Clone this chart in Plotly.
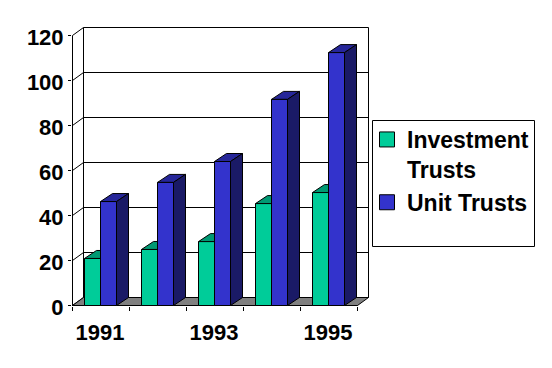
import plotly.graph_objects as go

# Data
years = ["1991", "1992", "1993", "1994", "1995"]
investment_trusts = [20.9, 24.9, 28.4, 45.3, 50.2]
unit_trusts = [46.2, 54.7, 64, 91.6, 112.4]
y_ticks = [0, 20, 40, 60, 80, 100, 120]
x_tick_labels = ["1991", "1993", "1995"]

# Figure geometry (pixels)
W, H = 552, 368
PX0, PX1 = 72.5, 357.5    # front plane x extent
PY0, PY120 = 305.5, 35.5  # front plane y for 0 and 120
WALL_DX_PX, BAR_DX_PX, DEPTH_PY = 11, 12, 8
ux = (PX1 - PX0) / len(years)
uy = (PY0 - PY120) / 120
WDX, BDX, DY = WALL_DX_PX / ux, BAR_DX_PX / ux, DEPTH_PY / uy
BAR_START, BAR_W = 12 / ux, 16 / ux

# Plot-area bounds, integer pixels
LEFT, RIGHT, TOP, BOTTOM = 72, 372, 26, 306

FONT = "Liberation Sans"
BLACK = "#000000"
GREEN, GREEN_TOP = "#00CC99", "#009973"
BLUE, BLUE_TOP, BLUE_SIDE = "#3333CC", "#262699", "#1A1A66"
GRAY = "#808080"

fig = go.Figure()


def poly(xs, ys, fill):
    fig.add_trace(go.Scatter(x=xs + xs[:1], y=ys + ys[:1], mode="lines", fill="toself",
                             fillcolor=fill, line=dict(color=BLACK, width=1),
                             showlegend=False, hoverinfo="skip"))


def line(xs, ys):
    fig.add_trace(go.Scatter(x=xs, y=ys, mode="lines", line=dict(color=BLACK, width=1),
                             showlegend=False, hoverinfo="skip"))


n = len(years)
# Gridlines on back wall and skewed side wall
for t in y_ticks:
    line([0, WDX, n + WDX], [t, t + DY, t + DY])
# Walls and axes
line([0, 0], [0, 120])
line([WDX, WDX], [DY, 120 + DY])
line([n + WDX, n + WDX], [DY, 120 + DY])
# Floor
poly([0, n, n + WDX, WDX], [0, 0, DY, DY], GRAY)
line([0, n], [0, 0])


def box(x0, w, v, front, top, side):
    x1 = x0 + w
    poly([x0, x0 + BDX, x1 + BDX, x1], [v, v + DY, v + DY, v], top)
    poly([x1, x1 + BDX, x1 + BDX, x1], [0, DY, v + DY, v], side)
    poly([x0, x1, x1, x0], [0, 0, v, v], front)


for i in range(n):
    x0 = i + BAR_START
    box(x0, BAR_W, investment_trusts[i], GREEN, GREEN_TOP, GREEN_TOP)
    box(x0 + BAR_W, BAR_W, unit_trusts[i], BLUE, BLUE_TOP, BLUE_SIDE)

# Legend entries
for name, col in (("Investment<br>Trusts", GREEN), ("Unit Trusts", BLUE)):
    fig.add_trace(go.Scatter(x=[None], y=[None], mode="markers", name=name,
                             marker=dict(symbol="square", size=15, color=col,
                                         line=dict(color=BLACK, width=1))))

# Year labels on an overlaid axis
fig.add_trace(go.Scatter(x=[None], y=[None], xaxis="x2", showlegend=False))

x_range = [(LEFT - PX0) / ux, (RIGHT - PX0) / ux]
y_range = [(PY0 - BOTTOM) / uy, (PY0 - TOP) / uy]
pw, ph = RIGHT - LEFT, BOTTOM - TOP
fig.update_layout(
    width=W, height=H, autosize=False,
    margin=dict(l=LEFT, r=W - RIGHT, t=TOP, b=H - BOTTOM, pad=0),
    paper_bgcolor="#FFFFFF", plot_bgcolor="#FFFFFF",
    font=dict(family=FONT, color=BLACK),
    xaxis=dict(range=x_range, tickvals=list(range(n + 1)), ticktext=[""] * (n + 1),
               ticks="outside", ticklen=4, tickcolor=BLACK, tickwidth=1,
               showgrid=False, zeroline=False, showline=False),
    xaxis2=dict(range=x_range, overlaying="x", side="bottom",
                tickvals=[0.5, 2.5, 4.5], ticktext=x_tick_labels,
                ticks="outside", ticklen=7, tickcolor="rgba(0,0,0,0)",
                tickfont=dict(size=22, family=FONT, weight="bold", color=BLACK),
                showgrid=False, zeroline=False, showline=False, tickangle=0,
                ticklabelshift=-1),
    yaxis=dict(range=y_range, tickvals=y_ticks,
               ticks="outside", ticklen=3, tickcolor=BLACK, tickwidth=1,
               tickfont=dict(size=22, family=FONT, weight="bold", color=BLACK),
               showgrid=False, zeroline=False, showline=False,
               ticklabelstandoff=0, ticklabelshift=2),
    showlegend=True,
    legend=dict(xref="paper", yref="paper", x=(367 - LEFT) / pw,
                y=(BOTTOM - 118) / ph, xanchor="left", yanchor="top", valign="top",
                font=dict(size=23, family=FONT, weight="bold", color=BLACK),
                bgcolor="rgba(0,0,0,0)", borderwidth=0, itemclick=False, itemdoubleclick=False),
    shapes=[dict(type="rect", xref="paper", yref="paper", layer="below",
                 x0=(372.5 - LEFT) / pw, x1=(534.5 - LEFT) / pw,
                 y0=(BOTTOM - 246.5) / ph, y1=(BOTTOM - 120.5) / ph,
                 line=dict(color=BLACK, width=1), fillcolor="#FFFFFF")],
)
fig.write_html("out.html", config={"displayModeBar": False},
               post_script="document.body.style.margin='0';")
